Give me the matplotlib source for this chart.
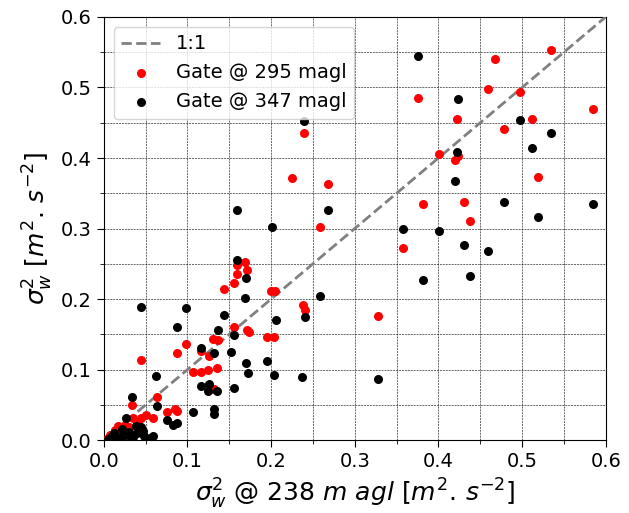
import matplotlib
matplotlib.use("Agg")
import matplotlib.pyplot as plt
from matplotlib.ticker import MultipleLocator

# Gate @ 295 magl (red)
red_x = [0.535, 0.468, 0.376, 0.459, 0.497, 0.422, 0.512, 0.585, 0.478, 0.239,
         0.401, 0.424, 0.420, 0.519, 0.225, 0.268, 0.382, 0.431, 0.438, 0.258,
         0.358, 0.328,
         0.169, 0.159, 0.159, 0.171, 0.156, 0.144, 0.200, 0.205, 0.238, 0.240,
         0.156, 0.171, 0.173, 0.131, 0.136, 0.195, 0.204, 0.098, 0.116, 0.087,
         0.126, 0.045, 0.107, 0.116, 0.124, 0.135, 0.132,
         0.064, 0.034, 0.075, 0.085, 0.087, 0.059, 0.051, 0.045, 0.035, 0.017,
         0.013, 0.007, 0.025, 0.020, 0.030, 0.010, 0.004, 0.040]
red_y = [0.553, 0.541, 0.485, 0.498, 0.494, 0.456, 0.456, 0.469, 0.441, 0.435,
         0.406, 0.403, 0.397, 0.373, 0.371, 0.363, 0.335, 0.338, 0.310, 0.302,
         0.273, 0.176,
         0.252, 0.248, 0.236, 0.241, 0.223, 0.214, 0.212, 0.212, 0.192, 0.185,
         0.160, 0.156, 0.154, 0.144, 0.142, 0.146, 0.146, 0.137, 0.126, 0.123,
         0.119, 0.114, 0.096, 0.096, 0.100, 0.102, 0.072,
         0.061, 0.050, 0.040, 0.044, 0.042, 0.031, 0.036, 0.031, 0.032, 0.020,
         0.015, 0.008, 0.022, 0.012, 0.018, 0.004, 0.002, 0.025]

# Gate @ 347 magl (black)
blk_x = [0.376, 0.424, 0.497, 0.239, 0.534, 0.512, 0.422, 0.420, 0.478, 0.585,
         0.159, 0.268, 0.519, 0.201, 0.358, 0.401, 0.431, 0.459, 0.159, 0.382,
         0.438, 0.170, 0.169, 0.258, 0.045, 0.098, 0.144, 0.240, 0.206, 0.087,
         0.137, 0.156, 0.116, 0.132, 0.152, 0.170, 0.195, 0.172, 0.204, 0.237,
         0.328, 0.063, 0.116, 0.126, 0.124, 0.135, 0.156, 0.107, 0.132, 0.132,
         0.034, 0.064, 0.076, 0.083, 0.087, 0.027, 0.059, 0.047, 0.055, 0.051,
         0.040, 0.035, 0.030, 0.025, 0.020, 0.015, 0.010, 0.044, 0.038, 0.033,
         0.005, 0.022, 0.048, 0.012]
blk_y = [0.544, 0.484, 0.454, 0.453, 0.435, 0.414, 0.409, 0.367, 0.337, 0.335,
         0.326, 0.326, 0.316, 0.302, 0.299, 0.296, 0.276, 0.268, 0.255, 0.227,
         0.233, 0.230, 0.201, 0.204, 0.189, 0.187, 0.178, 0.174, 0.170, 0.161,
         0.156, 0.149, 0.130, 0.123, 0.125, 0.109, 0.112, 0.095, 0.093, 0.089,
         0.087, 0.091, 0.077, 0.079, 0.070, 0.070, 0.074, 0.040, 0.044, 0.037,
         0.061, 0.048, 0.029, 0.022, 0.025, 0.031, 0.006, 0.013, 0.003, 0.001,
         0.010, 0.005, 0.012, 0.008, 0.004, 0.002, 0.006, 0.018, 0.020, 0.003,
         0.001, 0.016, 0.006, 0.010]

one_to_one = [0.0, 0.6]

fig = plt.figure(figsize=(6.29, 5.13), dpi=100)
ax = fig.add_axes([0.165, 0.142, 0.798, 0.825])

ax.plot(one_to_one, one_to_one, '--', color='gray', lw=2, label='1:1', zorder=3)
ax.scatter(red_x, red_y, s=30, color='red', label='Gate @ 295 magl', zorder=4)
ax.scatter(blk_x, blk_y, s=30, color='black', label='Gate @ 347 magl', zorder=4)

ax.set_xlim(0, 0.6)
ax.set_ylim(0, 0.6)
ax.xaxis.set_major_locator(MultipleLocator(0.1))
ax.yaxis.set_major_locator(MultipleLocator(0.1))
ax.xaxis.set_minor_locator(MultipleLocator(0.05))
ax.yaxis.set_minor_locator(MultipleLocator(0.05))
ax.grid(True, which='both', linestyle=(0, (2, 1)), color='k', lw=0.7, alpha=0.6)
ax.tick_params(axis='both', which='major', labelsize=14, length=5)
ax.tick_params(axis='both', which='minor', length=3)

ax.set_xlabel(r'$\sigma_w^2$ @ 238 $m\ agl\ [m^2.\,s^{-2}]$', fontsize=18)
ax.set_ylabel(r'$\sigma_w^2\ [m^2.\,s^{-2}]$', fontsize=18)

ax.legend(loc='upper left', fontsize=14)

fig.savefig('out.png', dpi=100)
